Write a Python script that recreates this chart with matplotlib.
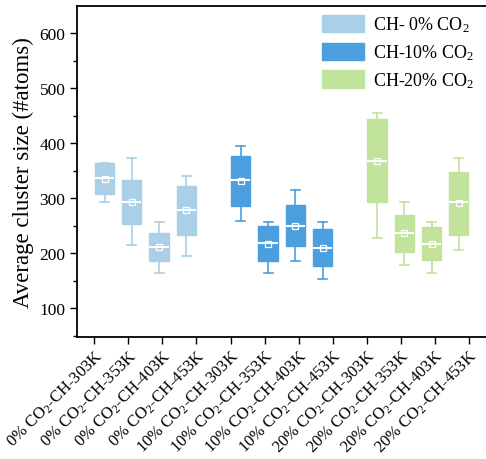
import matplotlib
matplotlib.use("Agg")
import matplotlib.pyplot as plt
from matplotlib.patches import Patch

plt.rcParams['font.family'] = ['Liberation Serif', 'DejaVu Serif']
plt.rcParams['mathtext.fontset'] = 'custom'
plt.rcParams['mathtext.rm'] = 'Liberation Serif'
plt.rcParams['mathtext.it'] = 'Liberation Serif:italic'

labels = ['0% CO$_2$-CH-303K', '0% CO$_2$-CH-353K', '0% CO$_2$-CH-403K', '0% CO$_2$-CH-453K',
          '10% CO$_2$-CH-303K', '10% CO$_2$-CH-353K', '10% CO$_2$-CH-403K', '10% CO$_2$-CH-453K',
          '20% CO$_2$-CH-303K', '20% CO$_2$-CH-353K', '20% CO$_2$-CH-403K', '20% CO$_2$-CH-453K']
groups = ['CH- 0% CO$_2$', 'CH-10% CO$_2$', 'CH-20% CO$_2$']
group_colors = ['#a9d0e6', '#4b9fdf', '#c2e39c']

whislo = [293, 215, 164, 195, 258, 164, 186, 152, 227, 179, 164, 205]
q1 =     [308, 252, 185, 232, 286, 185, 212, 177, 292, 202, 188, 233]
med =    [336, 293, 211, 278, 332, 218, 250, 210, 367, 237, 217, 292]
q3 =     [364, 332, 236, 322, 376, 250, 288, 243, 444, 269, 247, 348]
whishi = [364, 372, 256, 341, 395, 256, 315, 256, 455, 292, 256, 372]
mean =   [335, 293, 211, 278, 331, 217, 250, 210, 367, 236, 217, 291]

positions = [1, 2, 3, 4, 6, 7, 8, 9, 11, 12, 13, 14]

fig = plt.figure(figsize=(4.86, 4.60), dpi=100)
ax = fig.add_axes([0.159, 0.266, 0.841, 0.7196])

for i in range(12):
    c = group_colors[i // 4]
    st = [dict(whislo=whislo[i], q1=q1[i], med=med[i], q3=q3[i], whishi=whishi[i], mean=mean[i], fliers=[])]
    ax.bxp(st, positions=[positions[i]], widths=0.7, patch_artist=True, showmeans=True,
           boxprops=dict(facecolor=c, edgecolor=c, linewidth=1),
           whiskerprops=dict(color=c, linewidth=1.2),
           capprops=dict(color=c, linewidth=1.2),
           medianprops=dict(color='white', linewidth=1.5),
           meanprops=dict(marker='s', markerfacecolor='none', markeredgecolor='white', markersize=5, markeredgewidth=0.9),
           capwidths=0.33, manage_ticks=False)

ax.set_xlim(0, 15)
ax.set_ylim(48, 650)
ax.set_yticks([100, 200, 300, 400, 500, 600])
ax.set_yticks([50, 150, 250, 350, 450, 550], minor=True)
ax.set_xticks([(i + 0.5) * 1.25 for i in range(12)])
ax.set_xticklabels(labels, rotation=45, ha='right', rotation_mode='anchor', fontsize=12)
ax.tick_params(axis='y', which='major', direction='out', length=5, width=1, labelsize=12.5)
ax.tick_params(axis='y', which='minor', direction='out', length=3, width=1)
ax.tick_params(axis='x', direction='out', length=5, width=1, pad=2)
for s in ['left', 'bottom', 'top']:
    ax.spines[s].set_linewidth(1.3)
ax.spines['right'].set_visible(False)
ax.set_ylabel('Average cluster size (#atoms)', fontsize=16.5, labelpad=4)

handles = [Patch(facecolor=c, edgecolor=c) for c in group_colors]
ax.legend(handles, groups, loc='upper right', bbox_to_anchor=(0.993, 1.0), frameon=False,
          fontsize=13, handlelength=2.3, handleheight=1.1, labelspacing=0.45, handletextpad=0.5,
          borderaxespad=0.1)

fig.savefig('out.png', dpi=100)
